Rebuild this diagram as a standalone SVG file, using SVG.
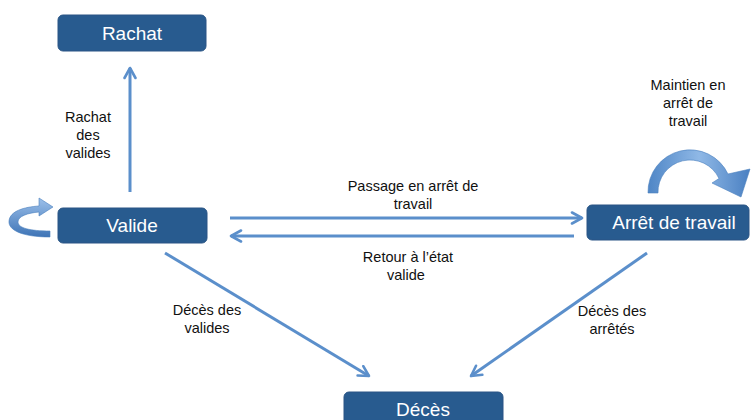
<svg xmlns="http://www.w3.org/2000/svg" width="752" height="420" viewBox="0 0 752 420">
<defs>
<style>
.box{fill:#285b8f;stroke:#2a5585;stroke-width:1}
.bt{font-family:"Liberation Sans",Arial,sans-serif;font-size:19px;fill:#fff;text-anchor:middle}
.lb{font-family:"Liberation Sans",Arial,sans-serif;font-size:14.5px;fill:#111;text-anchor:middle}
.cn{stroke:#5b8fcb;stroke-width:3;fill:none;marker-end:url(#ah)}
</style>
<marker id="ah" viewBox="0 0 14 14" refX="12" refY="7" markerWidth="14" markerHeight="14" markerUnits="userSpaceOnUse" orient="auto">
<path d="M2,1.5 L12,7 L2,12.5" fill="none" stroke="#5b8fcb" stroke-width="2.6" stroke-linecap="round" stroke-linejoin="round"/>
</marker>
<linearGradient id="g1" x1="0" y1="0" x2="0" y2="1">
<stop offset="0" stop-color="#9cc0ea"/>
<stop offset="1" stop-color="#3e74b6"/>
</linearGradient>
<linearGradient id="g2" x1="0" y1="0" x2="1" y2="0">
<stop offset="0" stop-color="#4f86c6"/>
<stop offset="0.5" stop-color="#8fb8e6"/>
<stop offset="1" stop-color="#4a80c2"/>
</linearGradient>
</defs>
<rect width="752" height="420" fill="#fff"/>
<g id="connectors">
<line class="cn" x1="130" y1="192" x2="130" y2="68"/>
<line class="cn" x1="230" y1="218" x2="582" y2="218"/>
<line class="cn" x1="574" y1="236" x2="231" y2="236"/>
<line class="cn" x1="165" y1="253" x2="369" y2="376"/>
<line class="cn" x1="647" y1="253" x2="471" y2="376"/>
<path id="loop-valide" d="M50,237 C22,237 8,230 9,221 C10,211 24,207 39,206 L39,198 L53,207 L39,216 L39,212 C28,213 18,216 18,222 C18,228 30,231 50,231 Z" fill="url(#g1)" stroke="#4a7fbe" stroke-width="0.6"/>
<path id="loop-arret" d="M648,193 A42,42 0 0 1 728,174 L750,169 L741,197 L712,183 L719,178.5 A32,32 0 0 0 658,193 Z" fill="url(#g2)" stroke="#4a7fbe" stroke-width="0.6"/>
</g>
<g id="labels">
<text class="lb" x="88" y="122">Rachat</text>
<text class="lb" x="88" y="140">des</text>
<text class="lb" x="88" y="158">valides</text>
<text class="lb" x="413" y="191">Passage en arrêt de</text>
<text class="lb" x="413" y="209">travail</text>
<text class="lb" x="408" y="262">Retour à l’état</text>
<text class="lb" x="406" y="280">valide</text>
<text class="lb" x="207" y="315">Décès des</text>
<text class="lb" x="207" y="333">valides</text>
<text class="lb" x="612" y="316">Décès des</text>
<text class="lb" x="612" y="334">arrêtés</text>
<text class="lb" x="688" y="90">Maintien en</text>
<text class="lb" x="688" y="108">arrêt de</text>
<text class="lb" x="688" y="126">travail</text>
</g>
<g id="node-rachat">
<rect class="box" x="58" y="15" width="148" height="36" rx="5"/>
<text class="bt" x="132" y="40">Rachat</text>
</g>
<g id="node-valide">
<rect class="box" x="58" y="208" width="149" height="35" rx="5"/>
<text class="bt" x="132" y="232">Valide</text>
</g>
<g id="node-arret">
<rect class="box" x="587" y="205" width="162" height="35" rx="5"/>
<text class="bt" x="674" y="229">Arrêt de travail</text>
</g>
<g id="node-deces">
<rect class="box" x="344" y="392" width="159" height="36" rx="5"/>
<text class="bt" x="423" y="416">Décès</text>
</g>
</svg>
